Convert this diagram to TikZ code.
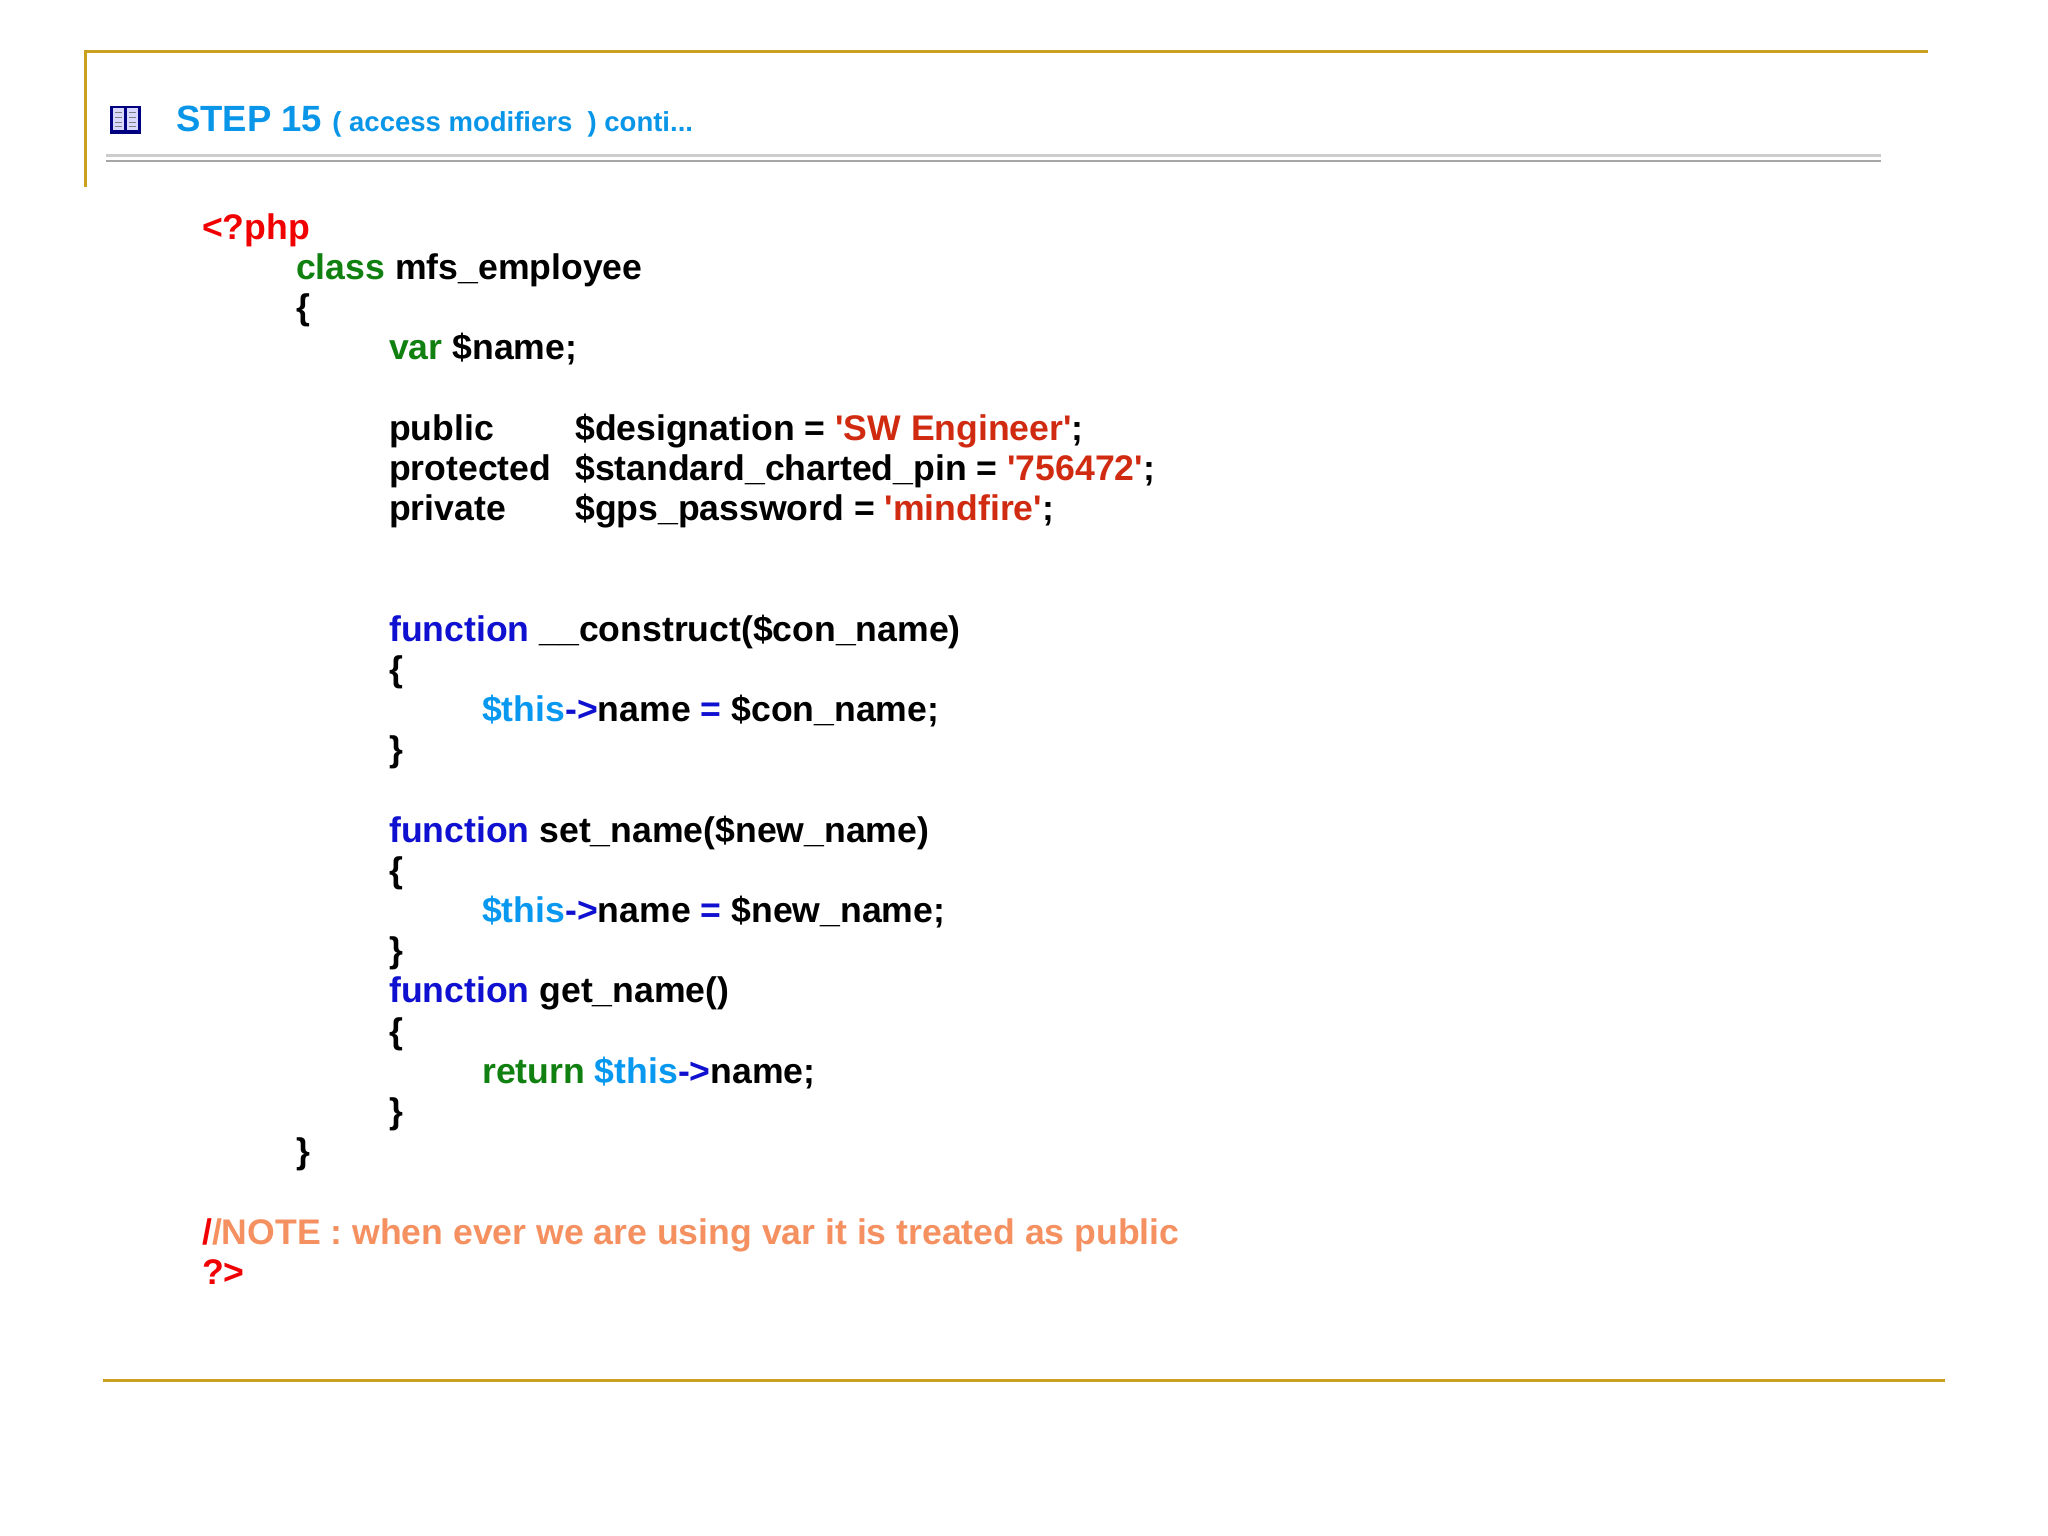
\documentclass[tikz,border=0pt]{standalone}
\usepackage{fontspec}
\setmainfont{Liberation Sans}[Ligatures=TeXOff]
\definecolor{gold}{HTML}{C9A020}
\definecolor{ttl}{HTML}{0A96E8}
\definecolor{kred}{HTML}{F00000}
\definecolor{kgreen}{HTML}{108010}
\definecolor{kblue}{HTML}{1010D0}
\definecolor{kstr}{HTML}{D02A10}
\definecolor{kthis}{HTML}{0898F0}
\definecolor{knote}{HTML}{F59060}
\newcommand\qq{'}
\begin{document}
\begin{tikzpicture}[x=1pt,y=-1pt,
  code/.style={anchor=base west,inner sep=0pt,font=\fontsize{35.6}{40}\selectfont\bfseries},
  goldline/.style={draw=gold,line width=3pt}]
\useasboundingbox[fill=white] (0,0) rectangle (2048,1535);
\draw[goldline] (85,187) -- (85,51) -- (1928,51);
\draw[goldline] (103,1380) -- (1945,1380);
\draw[gray!40,line width=3pt] (106,155) -- (1881,155);
\draw[gray!70,line width=2.5pt] (106,161) -- (1881,161);
% icon
\fill[blue!50!black] (110,106) rectangle (141,134);
\fill[white!85!blue] (113,108) rectangle (124,130);
\fill[white!85!blue] (127,108) rectangle (138,130);
\foreach \yy in {112,117,122,126}{\draw[gray] (115,\yy)--(122,\yy); \draw[gray] (129,\yy)--(136,\yy);}
\node[anchor=base west,inner sep=0pt,text=ttl,font=\fontsize{36.5}{40}\selectfont\bfseries] (title) at (176,131)
  {STEP 15 {\fontsize{27.5}{30}\selectfont ( access modifiers \ ) conti...}};
\def\L#1{\fpeval{239+40.2*#1}}
\node[code] (l0) at (202,\L{0}) {\color{kred}<?php};
\node[code] (l1) at (296,\L{1}) {\color{kgreen}class \color{black}mfs\_employee};
\node[code] (l2) at (296,\L{2}) {\{};
\node[code] (l3) at (389,\L{3}) {\color{kgreen}var \color{black}\$name;};
\node[code] (l5a) at (389,\L{5}) {public};
\node[code] (l5b) at (575,\L{5}) {\$designation = \color{kstr}\qq SW Engineer\qq\color{black};};
\node[code] (l6a) at (389,\L{6}) {protected};
\node[code] (l6b) at (575,\L{6}) {\$standard\_charted\_pin = \color{kstr}\qq 756472\qq\color{black};};
\node[code] (l7a) at (389,\L{7}) {private};
\node[code] (l7b) at (575,\L{7}) {\$gps\_password = \color{kstr}\qq mindfire\qq\color{black};};
\node[code] (l10) at (389,\L{10}) {\color{kblue}function \color{black}\_\_construct(\$con\_name)};
\node[code] (l11) at (389,\L{11}) {\{};
\node[code] (l12) at (482,\L{12}) {\color{kthis}\$this\color{kblue}->\color{black}name \color{kblue}= \color{black}\$con\_name;};
\node[code] (l13) at (389,\L{13}) {\}};
\node[code] (l15) at (389,\L{15}) {\color{kblue}function \color{black}set\_name(\$new\_name)};
\node[code] (l16) at (389,\L{16}) {\{};
\node[code] (l17) at (482,\L{17}) {\color{kthis}\$this\color{kblue}->\color{black}name \color{kblue}= \color{black}\$new\_name;};
\node[code] (l18) at (389,\L{18}) {\}};
\node[code] (l19) at (389,\L{19}) {\color{kblue}function \color{black}get\_name()};
\node[code] (l20) at (389,\L{20}) {\{};
\node[code] (l21) at (482,\L{21}) {\color{kgreen}return \color{kthis}\$this\color{kblue}->\color{black}name;};
\node[code] (l22) at (389,\L{22}) {\}};
\node[code] (l23) at (296,\L{23}) {\}};
\node[code] (l25) at (202,\L{25}) {\color{kred}/\color{knote}/NOTE : when ever we are using var it is treated as public};
\node[code] (l26) at (202,\L{26}) {\color{kred}?>};
\end{tikzpicture}
\end{document}
